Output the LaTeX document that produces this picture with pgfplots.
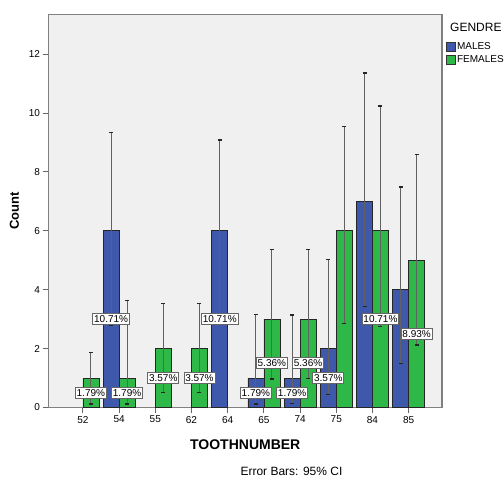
\documentclass[border=0pt]{standalone}
\usepackage{fontspec}
\setmainfont{Liberation Sans}
\usepackage{pgfplots}
\usepackage{pgfplotstable}
\pgfplotsset{compat=1.18}
\definecolor{mblue}{HTML}{3E58AC}
\definecolor{fgreen}{HTML}{2EB848}
\definecolor{bgray}{HTML}{F0F0F0}

% x = category index (52,54,55,62,64,65,74,75,84,85 -> 0..9)
\pgfplotstableread{
x   y  lo    hi
1   6  2.80  9.33
4   6  2.90  9.08
5   1  0.12  3.16
6   1  0.14  3.14
7   2  0.45  5.03
8   7  3.44  11.36
9   4  1.50  7.49
}\males
\pgfplotstableread{
x   y  lo    hi
0   1  0.12  1.87
1   1  0.12  3.64
2   2  0.50  3.52
3   2  0.50  3.52
5   3  0.97  5.37
6   3  0.99  5.36
7   6  2.86  9.53
8   6  2.74  10.24
9   5  2.12  8.60
}\females
\pgfplotstableread{
x  y  lab
1  6  10.71
4  6  10.71
5  1  1.79
6  1  1.79
7  2  3.57
}\malelabels
\pgfplotstableread{
x  y  lab
0  1  1.79
1  1  1.79
2  2  3.57
3  2  3.57
5  3  5.36
6  3  5.36
8  6  10.71
9  5  8.93
}\femalelabels

\begin{document}
\begin{tikzpicture}[x=1pt,y=1pt]
\useasboundingbox (0,0) rectangle (504,480);
\begin{axis}[
  at={(48.5pt,72.5pt)}, anchor=south west,
  width=393.5pt, height=393.2pt, scale only axis,
  xmin=-0.95, xmax=9.92, ymin=0, ymax=13.35,
  axis background/.style={fill=bgray},
  axis line style={draw=black!50, line width=1.2pt},
  xtick={0,...,9},
  xticklabels={52,54,55,62,64,65,74,75,84,85},
  ytick={0,2,...,12},
  tick align=outside, tick pos=left,
  major tick length=5pt,
  tick style={draw=black!60, line width=0.8pt},
  ticklabel style={font=\fontsize{10}{12}\selectfont},
  /pgf/number format/assume math mode=true,
  xlabel={TOOTHNUMBER}, ylabel={Count},
  every axis x label/.style={at={(axis description cs:0.5,-0.0954)}, anchor=center, font=\fontsize{14}{16}\selectfont\bfseries},
  every axis y label/.style={at={(axis description cs:-0.0864,0.5)}, rotate=90, anchor=center, font=\fontsize{13}{15}\selectfont\bfseries},
  legend image code/.code={\draw[#1] (0pt,-4.5pt) rectangle (9pt,4.5pt);},
  legend style={at={(axis description cs:1.0102,0.9336)}, anchor=north west, draw=none, fill=none,
    font=\fontsize{10}{12}\selectfont, inner sep=0pt, row sep=0pt,
    nodes={inner xsep=1.2pt, inner ysep=1.5pt, text height=7.5pt, text depth=2pt, anchor=west}},
  legend cell align=left,
  clip=false,
]
% bars
\addplot[ybar, bar width=0.44, bar shift=-0.22, fill=mblue, draw=black!85, line width=0.6pt, forget plot]
  table[x=x, y=y] {\males};
\addplot[ybar, bar width=0.44, bar shift=0.22, fill=fgreen, draw=black!85, line width=0.6pt, forget plot]
  table[x=x, y=y] {\females};
% percentage labels
\addplot[draw=none, mark=none, forget plot, nodes near coords={\pgfplotspointmeta\%},
  point meta=explicit symbolic,
  every node near coord/.style={anchor=center, fill=white, draw=black!60, text=black, line width=0.8pt,
    font=\fontsize{10}{12}\selectfont, inner xsep=1.3pt, inner ysep=2pt}]
  table[x expr=\thisrow{x}+0.22, y expr=\thisrow{y}/2, meta=lab] {\femalelabels};
\addplot[draw=none, mark=none, forget plot, nodes near coords={\pgfplotspointmeta\%},
  point meta=explicit symbolic,
  every node near coord/.style={anchor=center, fill=white, draw=black!60, text=black, line width=0.8pt,
    font=\fontsize{10}{12}\selectfont, inner xsep=1.3pt, inner ysep=2pt}]
  table[x expr=\thisrow{x}-0.22, y expr=\thisrow{y}/2, meta=lab] {\malelabels};
% error bars
\addplot[draw=none, mark=none, forget plot,
  error bars/.cd, y dir=both, y explicit,
  error bar style={draw=black!62, solid, line width=1.1pt},
  error mark options={rotate=90, draw=black!85, mark size=2pt, line width=1.3pt}]
  table[x expr=\thisrow{x}-0.22, y=y, y error plus expr=\thisrow{hi}-\thisrow{y}, y error minus expr=\thisrow{y}-\thisrow{lo}] {\males};
\addplot[draw=none, mark=none, forget plot,
  error bars/.cd, y dir=both, y explicit,
  error bar style={draw=black!62, solid, line width=1.1pt},
  error mark options={rotate=90, draw=black!85, mark size=2pt, line width=1.3pt}]
  table[x expr=\thisrow{x}+0.22, y=y, y error plus expr=\thisrow{hi}-\thisrow{y}, y error minus expr=\thisrow{y}-\thisrow{lo}] {\females};
% legend
\addlegendimage{fill=mblue, draw=black!80, line width=0.6pt}
\addlegendentry{MALES}
\addlegendimage{fill=fgreen, draw=black!80, line width=0.6pt}
\addlegendentry{FEMALES}
\node[anchor=west, font=\fontsize{12}{14}\selectfont, inner sep=0pt] at (axis description cs:1.0203,0.966) {GENDRE};
\node[anchor=center, font=\fontsize{12}{14}\selectfont, inner sep=0pt] at (axis description cs:0.6175,-0.1633) {Error Bars: 95\% CI};
\end{axis}
\end{tikzpicture}
\end{document}
